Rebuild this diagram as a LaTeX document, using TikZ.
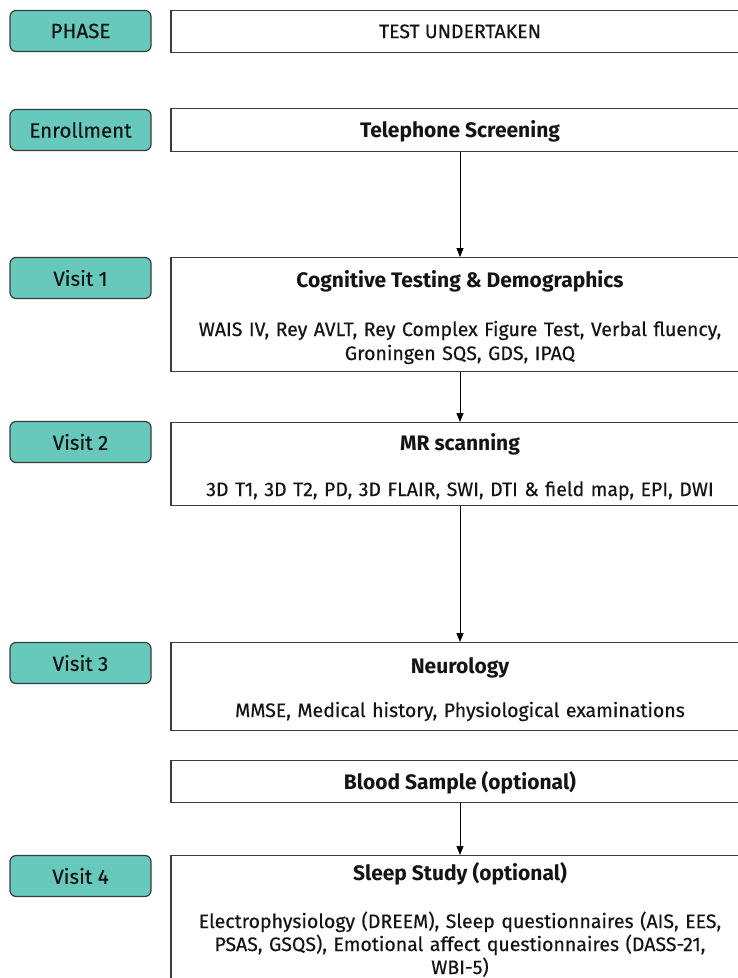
\documentclass[tikz,border=0pt]{standalone}
\usepackage{fontspec}
\setmainfont{Fira Sans}[UprightFeatures={FakeBold=0.35}]
\usetikzlibrary{arrows.meta}

\definecolor{phasegreen}{HTML}{66C9BB}
\definecolor{boxline}{HTML}{3C3C3C}
\definecolor{ink}{HTML}{141414}

\tikzset{
  phasebox/.style={draw=boxline, fill=phasegreen, line width=1.2pt, rounded corners=6pt,
    minimum width=141pt, minimum height=41pt, inner sep=0pt, text=ink,
    font=\fontsize{20.5}{24}\selectfont},
  testbox/.style={draw=boxline, fill=white, line width=1.2pt, anchor=north,
    minimum width=578pt, inner sep=0pt, text=ink, font=\fontsize{19.5}{25}\selectfont},
  headtext/.style={anchor=base, inner sep=0pt, text=ink, font=\bfseries\fontsize{21}{25}\selectfont},
  bodytext/.style={anchor=base, inner sep=0pt, text=ink, text width=570pt, align=center,
    font=\fontsize{19.5}{24}\selectfont},
  flow/.style={-{Triangle[length=9pt,width=7pt]}, line width=0.8pt, black}
}

\begin{document}
\begin{tikzpicture}[x=1pt,y=1pt]
\useasboundingbox (0,0) rectangle (738,-978);
\clip (0,0) rectangle (738,-978);
\fill[white] (0,0) rectangle (738,-978);

% phase column
\node[phasebox] (ph0) at (80.5,-31)  {PHASE};
\node[phasebox] (ph1) at (80.5,-130) {Enrollment};
\node[phasebox] (ph2) at (80.5,-278) {Visit 1};
\node[phasebox] (ph3) at (80.5,-442) {Visit 2};
\node[phasebox] (ph4) at (80.5,-663) {Visit 3};
\node[phasebox] (ph5) at (80.5,-876) {Visit 4};

% tests column
\node[testbox, minimum height=42pt, text height=13pt, text depth=0pt] (hdr) at (460,-10) {TEST UNDERTAKEN};
\node[testbox, minimum height=43pt, text height=14pt, text depth=0pt,
  font=\bfseries\fontsize{21}{25}\selectfont] (tel) at (460,-108) {Telephone Screening};

\node[testbox, minimum height=114pt] (cog) at (460,-257) {};
\node[headtext] (cogT) at (460,-287) {Cognitive Testing \& Demographics};
\node[bodytext] (cogB) at (460,-336)
  {WAIS IV, Rey AVLT, Rey Complex Figure Test, Verbal fluency,\\
   Groningen SQS, GDS, IPAQ};

\node[testbox, minimum height=83pt] (mri) at (460,-422) {};
\node[headtext] (mriT) at (460,-450) {MR scanning};
\node[bodytext] (mriB) at (460,-496)
  {3D T1, 3D T2, PD, 3D FLAIR, SWI, DTI \& field map, EPI, DWI};

\node[testbox, minimum height=88pt] (neu) at (460,-642) {};
\node[headtext] (neuT) at (460,-673) {Neurology};
\node[bodytext] (neuB) at (460,-717)
  {MMSE, Medical history, Physiological examinations};

\node[testbox, minimum height=42pt, text height=16pt, text depth=0pt,
  font=\bfseries\fontsize{21}{25}\selectfont] (bld) at (460,-760) {Blood Sample (optional)};

\node[testbox, minimum height=140pt] (slp) at (460,-855) {};
\node[headtext] (slpT) at (460,-880) {Sleep Study (optional)};
\node[bodytext, font=\fontsize{19.5}{23}\selectfont] (slpB) at (460,-928)
  {Electrophysiology (DREEM), Sleep questionnaires (AIS, EES,\\
   PSAS, GSQS), Emotional affect questionnaires (DASS-21,\\
   WBI-5)};

% arrows
\draw[flow] (tel) -- (cog);
\draw[flow] (cog) -- (mri);
\draw[flow] (mri) -- (neu);
\draw[flow] (bld) -- (slp);
\end{tikzpicture}
\end{document}
